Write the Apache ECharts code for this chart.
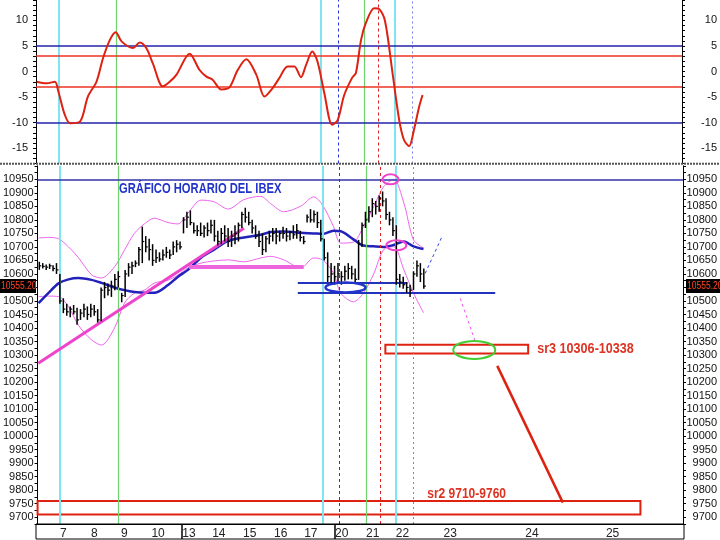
<!DOCTYPE html>
<html>
<head>
<meta charset="utf-8">
<script src="https://cdn.jsdelivr.net/npm/echarts@6/dist/echarts.min.js"></script>
<style>
html, body { margin: 0; padding: 0; background: #fff; }
#chart { width: 720px; height: 540px; }
</style>
</head>
<body>
<div id="chart"></div>
<script>
// hourly IBEX bars, one slot per trading hour (x = slot index)
var barHigh = [10645, 10640, 10635, 10638, 10632, 10640,
  10600, 10510, 10490, 10480, 10485, 10475, 10470, 10490, 10480,
  10490, 10485, 10470, 10550, 10570, 10565, 10575, 10600, 10610,
  10530, 10615, 10640, 10645, 10650, 10700, 10775, 10740, 10730,
  10710, 10690, 10680, 10690, 10700, 10690, 10720, 10725, 10720,
  10810, 10830, 10835, 10790, 10780, 10790, 10780, 10790, 10800,
  10800, 10760, 10770, 10780, 10770, 10760, 10780, 10790, 10830,
  10845, 10830, 10800, 10780, 10760, 10750, 10740, 10760, 10770,
  10770, 10760, 10775, 10770, 10760, 10780, 10785, 10760, 10740,
  10820, 10840, 10835, 10830, 10800, 10730, 10680, 10640, 10630,
  10640, 10610, 10630, 10640, 10630, 10620, 10726, 10790, 10830,
  10850, 10880, 10870, 10890, 10905, 10880, 10830, 10810, 10780,
  10600, 10590, 10570, 10560, 10610, 10650, 10640, 10620];
var barLow = [10615, 10620, 10615, 10618, 10610, 10600,
  10490, 10455, 10445, 10440, 10450, 10412, 10430, 10440, 10430,
  10440, 10445, 10420, 10425, 10510, 10520, 10515, 10540, 10550,
  10495, 10515, 10590, 10600, 10625, 10630, 10640, 10680, 10650,
  10630, 10640, 10645, 10650, 10660, 10655, 10670, 10680, 10690,
  10750, 10770, 10780, 10750, 10740, 10740, 10735, 10740, 10750,
  10720, 10705, 10710, 10720, 10700, 10700, 10710, 10720, 10770,
  10790, 10780, 10750, 10730, 10700, 10670, 10680, 10710, 10720,
  10710, 10720, 10730, 10720, 10725, 10730, 10730, 10720, 10710,
  10790, 10790, 10790, 10770, 10720, 10650, 10570, 10565, 10560,
  10570, 10560, 10575, 10580, 10580, 10565, 10578, 10700, 10770,
  10790, 10810, 10820, 10830, 10850, 10800, 10780, 10740, 10560,
  10550, 10545, 10530, 10515, 10540, 10590, 10570, 10545];
var barClose = [10630, 10628, 10625, 10630, 10620, 10615,
  10500, 10470, 10460, 10470, 10460, 10430, 10455, 10470, 10450,
  10470, 10460, 10430, 10540, 10550, 10540, 10555, 10580, 10590,
  10520, 10600, 10625, 10630, 10640, 10690, 10720, 10700, 10690,
  10650, 10660, 10655, 10670, 10680, 10670, 10700, 10710, 10700,
  10800, 10810, 10790, 10760, 10760, 10750, 10770, 10760, 10780,
  10740, 10720, 10750, 10740, 10720, 10740, 10750, 10780, 10820,
  10810, 10790, 10770, 10740, 10720, 10690, 10730, 10740, 10750,
  10740, 10750, 10750, 10740, 10755, 10745, 10760, 10735, 10720,
  10810, 10800, 10820, 10790, 10730, 10660, 10590, 10600, 10590,
  10600, 10590, 10610, 10620, 10600, 10580, 10710, 10780, 10800,
  10830, 10860, 10850, 10880, 10870, 10820, 10800, 10760, 10580,
  10570, 10560, 10550, 10540, 10600, 10630, 10600, 10555];
var lastPrice = 10555.20;

// moving average and bands, read at these slots
var bandSlot = [0.3, 3.2, 6.1, 9.0, 11.9, 15.7, 18.6, 22.4, 25.3, 28.2, 31.1, 34.0, 38.0, 40.9, 43.8, 47.6, 51.4, 55.5,
  60.1, 65.0, 67.9, 71.7, 76.7, 80.4, 83.0, 86.2, 88.3, 92.0, 94.9, 97.9, 100.8, 103.7, 106.7, 109.5, 112.4];
var maValue = [10492, 10530, 10565, 10580, 10585, 10578, 10567, 10550, 10540, 10533, 10530, 10530, 10559, 10590, 10615, 10660, 10690, 10722,
  10735, 10745, 10755, 10757, 10752, 10750, 10748, 10760, 10758, 10728, 10705, 10702, 10700, 10707, 10720, 10702, 10692];
var upperValue = [10733, 10735, 10730, 10700, 10660, 10597, 10585, 10626, 10688, 10750, 10785, 10806, 10790, 10785, 10825, 10873, 10867, 10840,
  10875, 10887, 10860, 10830, 10851, 10885, 10855, 10775, 10714, 10718, 10775, 10849, 10923, 10950, 10862, 10726, 10696];
var lowerValue = [10516, 10518, 10516, 10479, 10410, 10356, 10337, 10400, 10492, 10529, 10540, 10566, 10577, 10596, 10622, 10640, 10648, 10652,
  10645, 10659, 10665, 10652, 10622, 10659, 10652, 10603, 10529, 10497, 10529, 10600, 10690, 10701, 10615, 10529, 10457];

// oscillator (top panel)
var oscSlot = [0.2, 3.1, 5.5, 6.5, 8.4, 9.9, 12.8, 15.1, 17.6, 19.5, 21.5, 23.2, 24.9, 28.2, 30.2, 32.1, 34.0, 36.9, 38.9, 40.9,
  44.7, 47.6, 49.6, 51.4, 53.9, 56.3, 58.7, 61.2, 64.1, 66.5, 68.8, 70.8, 73.2, 75.2, 77.1, 78.6, 80.4, 81.9, 83.9, 86.2,
  87.8, 89.7, 92.1, 93.1, 94.6, 96.0, 98.4, 99.9, 101.6, 103.7, 105.7, 107.1, 108.6, 110.0, 111.5, 112.5];
var oscValue = [-2.0, -2.3, -2.0, -3.9, -8.5, -10.1, -9.8, -4.9, -2.0, 2.6, 6.2, 7.7, 5.9, 4.6, 5.7, 4.6, 1.6, -2.9, -2.0, -0.6,
  3.5, 0.3, -1.0, -1.6, -3.5, -3.1, 0.3, 2.4, -0.6, -4.9, -3.3, -1.3, 1.0, 1.0, -1.1, 1.3, 3.9, 2.0, -4.2, -10.4,
  -9.5, -4.6, -1.1, -0.3, 6.2, 9.5, 12.4, 12.2, 9.8, 0.0, -9.5, -13.4, -14.6, -11.4, -6.9, -4.6];
var oscBlueLevels = [5, -10];
var oscRedLevels = [3, -3];

// time axis
var dayLabel = ['7', '8', '9', '10', '13', '14', '15', '16', '17', '20', '21', '22', '23', '24', '25'];
var daySlot = [7.5, 16.5, 25.3, 35.1, 44.1, 52.8, 61.8, 70.8, 79.6, 88.6, 97.6, 106.3, 120.2, 144.0, 167.5];
var weekBreakSlot = [42.1, 86.5];
var cyanSlot = [6.5, 83.0, 104.4];
var greenSlot = [23.4, 95.6];
var blueDashSlot = [87.9];
var blueDotSlot = [109.5];
var redDashSlot = [99.7];

// drawn annotations, [slot, price]
var risingTrend = [[0.2, 10270], [60.1, 10769]];
var pinkSupport = [[44.1, 10625], [77.5, 10625]];
var blueUpper = [[75.8, 10568], [107.7, 10568]];
var blueLower = [[75.8, 10532], [133.3, 10532]];
var blueDashPath = [[112.9, 10602], [117.8, 10738]];
var pinkDashPath = [[123.1, 10510], [127.5, 10350]];
var redPointer = [[133.9, 10260], [153.0, 9754]];
var topResistance = 10950;
var sr3Zone = [101.3, 142.9, 10306, 10338];
var sr2Zone = [0, 175.6, 9710, 9760];
var blueOval = [89.7, 10550];
var topOval = [102.8, 10950];
var midOval = [104.5, 10706];
var greenOval = [127.2, 10319];

var FONT = '"Liberation Sans", Arial, sans-serif';
var X_MAX = 188;

function segment(pts, style) {
  return [{ coord: pts[0], lineStyle: style }, { coord: pts[1] }];
}
function vlines(slots, style) {
  return slots.map(function (s) { return { xAxis: s, lineStyle: style }; });
}
var cyanStyle = { color: '#7fe3f0', width: 2, type: 'solid' };
var greenStyle = { color: '#6fd26f', width: 1.2, type: 'solid' };
var blueDashStyle = { color: '#2436d8', width: 1, type: [3, 3] };
var blueDotStyle = { color: '#7282ee', width: 1, type: [2, 3] };
var redDashStyle = { color: '#e02020', width: 1, type: [3, 3] };
function allVlines() {
  return [].concat(vlines(cyanSlot, cyanStyle), vlines(greenSlot, greenStyle),
    vlines(blueDashSlot, blueDashStyle), vlines(blueDotSlot, blueDotStyle), vlines(redDashSlot, redDashStyle));
}

function yAxisBase(grid, pos, min, max, step, labelStep, margin) {
  return {
    type: 'value', gridIndex: grid, position: pos, min: min, max: max, interval: step,
    axisLine: { show: true, lineStyle: { color: '#000', width: 1 } },
    axisTick: { show: true, length: 3, lineStyle: { color: '#000' } },
    splitLine: { show: false },
    axisLabel: {
      fontFamily: FONT, fontSize: 11, color: '#111', margin: margin,
      align: 'right',
      formatter: function (v) {
        var r = Math.round(v);
        return (r % labelStep === 0 && r < max) ? String(r) : '';
      }
    }
  };
}

var option = {
  animation: false,
  backgroundColor: '#fff',
  grid: [
    { left: 36, right: 36, top: 0, height: 163.5 },
    { left: 36, right: 36, top: 165.8, height: 358.2 }
  ],
  xAxis: [
    { type: 'value', gridIndex: 0, min: 0, max: X_MAX, show: false },
    {
      type: 'value', gridIndex: 1, min: 0, max: X_MAX,
      axisLine: { show: true, lineStyle: { color: '#000', width: 1 } },
      axisTick: { show: true, customValues: weekBreakSlot, length: 15, lineStyle: { color: '#000', width: 1.5 } },
      splitLine: { show: false },
      axisLabel: {
        customValues: daySlot, margin: 4, fontFamily: FONT, fontSize: 12, color: '#222',
        formatter: function (v) {
          for (var i = 0; i < daySlot.length; i++) if (Math.abs(daySlot[i] - v) < 0.01) return dayLabel[i];
          return '';
        }
      }
    }
  ],
  yAxis: [
    yAxisBase(0, 'left', -18, 14, 1, 5, 8),
    yAxisBase(0, 'right', -18, 14, 1, 5, 35),
    yAxisBase(1, 'left', 9675, 11000, 25, 50, 4),
    yAxisBase(1, 'right', 9675, 11000, 25, 50, 34)
  ],
  series: [
    {
      name: 'osc', type: 'line', xAxisIndex: 0, yAxisIndex: 0,
      data: oscSlot.map(function (s, i) { return [s, oscValue[i]]; }),
      smooth: 0.3, symbol: 'none', lineStyle: { color: '#dd2211', width: 2 }, z: 5,
      markLine: {
        silent: true, symbol: 'none', label: { show: false },
        data: allVlines()
          .concat(oscBlueLevels.map(function (v) { return { yAxis: v, lineStyle: { color: '#2323a8', width: 1.5, type: 'solid' } }; }))
          .concat(oscRedLevels.map(function (v) { return { yAxis: v, lineStyle: { color: '#ee3322', width: 1.5, type: 'solid' } }; }))
      }
    },
    {
      name: 'upper', type: 'line', xAxisIndex: 1, yAxisIndex: 2,
      data: bandSlot.map(function (s, i) { return [s, upperValue[i]]; }),
      smooth: 0.3, symbol: 'none', lineStyle: { color: '#ee66ee', width: 1 }, z: 3
    },
    {
      name: 'lower', type: 'line', xAxisIndex: 1, yAxisIndex: 2,
      data: bandSlot.map(function (s, i) { return [s, lowerValue[i]]; }),
      smooth: 0.3, symbol: 'none', lineStyle: { color: '#ee66ee', width: 1 }, z: 3
    },
    {
      name: 'ma', type: 'line', xAxisIndex: 1, yAxisIndex: 2,
      data: bandSlot.map(function (s, i) { return [s, maValue[i]]; }),
      smooth: 0.3, symbol: 'none', lineStyle: { color: '#2222bb', width: 2.5 }, z: 4
    },
    {
      name: 'bars', type: 'custom', xAxisIndex: 1, yAxisIndex: 2, z: 6,
      data: barHigh.map(function (h, i) { return [i + 0.5, h, barLow[i], barClose[i]]; }),
      renderItem: function (params, api) {
        var x = api.value(0);
        var hi = api.coord([x, api.value(1)]);
        var lo = api.coord([x, api.value(2)]);
        var cl = api.coord([x, api.value(3)]);
        return {
          type: 'group', children: [
            { type: 'line', shape: { x1: hi[0], y1: hi[1], x2: lo[0], y2: lo[1] }, style: { stroke: '#000', lineWidth: 1.5 } },
            { type: 'line', shape: { x1: cl[0], y1: cl[1], x2: cl[0] + 2, y2: cl[1] }, style: { stroke: '#000', lineWidth: 1.2 } }
          ]
        };
      }
    },
    {
      name: 'notes', type: 'line', xAxisIndex: 1, yAxisIndex: 2, data: [], z: 4,
      markLine: {
        silent: true, symbol: 'none', label: { show: false },
        data: allVlines().concat([
          { yAxis: topResistance, lineStyle: { color: '#3333aa', width: 1.5, type: 'solid' } },
          segment(risingTrend, { color: '#ee44cc', width: 3, type: 'solid' }),
          segment(pinkSupport, { color: '#ee66dd', width: 4, type: 'solid' }),
          segment(blueUpper, { color: '#2233bb', width: 2, type: 'solid' }),
          segment(blueLower, { color: '#2233bb', width: 2, type: 'solid' }),
          segment(blueDashPath, { color: '#3344dd', width: 1, type: [3, 3] }),
          segment(pinkDashPath, { color: '#ee55ee', width: 1, type: [3, 3] }),
          segment(redPointer, { color: '#dd2211', width: 2.5, type: 'solid' })
        ])
      },
      markArea: {
        silent: true,
        itemStyle: { color: 'rgba(0,0,0,0)', borderColor: '#dd2211', borderWidth: 2 },
        label: { show: false },
        data: [
          [{ coord: [sr3Zone[0], sr3Zone[2]] }, { coord: [sr3Zone[1], sr3Zone[3]] }],
          [{ coord: [sr2Zone[0], sr2Zone[2]] }, { coord: [sr2Zone[1], sr2Zone[3]] }]
        ]
      }
    }
  ]
};

var chart = echarts.init(document.getElementById('chart'), null, { renderer: 'canvas' });
chart.setOption(option);

function px(pt) { return chart.convertToPixel({ xAxisIndex: 1, yAxisIndex: 2 }, pt); }
function oval(pt, rx, ry, color, w) {
  var c = px(pt);
  return { type: 'ellipse', shape: { cx: c[0], cy: c[1], rx: rx, ry: ry }, style: { fill: null, stroke: color, lineWidth: w }, z: 20 };
}
var priceY = px([0, lastPrice])[1];
var sr3Pos = px([sr3Zone[1], (sr3Zone[2] + sr3Zone[3]) / 2]);
var sr2Pos = px([113.5, sr2Zone[3]]);
var priceText = lastPrice.toFixed(2);

chart.setOption({
  graphic: [
    { type: 'line', shape: { x1: 0, y1: 163.8, x2: 720, y2: 163.8 }, style: { stroke: '#555', lineWidth: 2, lineDash: [2, 1] }, z: 30 },
    { type: 'rect', shape: { x: 36, y: 524, width: 648, height: 15 }, style: { fill: null, stroke: '#000', lineWidth: 1 }, z: 30 },
    { type: 'text', x: 119, y: 182, scaleX: 0.8, style: { text: 'GRÁFICO HORARIO DEL IBEX', font: 'bold 14px ' + FONT, fill: '#2233cc', textVerticalAlign: 'top' }, z: 30 },
    { type: 'text', x: sr3Pos[0] + 9, y: sr3Pos[1], scaleX: 0.84, style: { text: 'sr3 10306-10338', font: 'bold 15px ' + FONT, fill: '#dd3322', textVerticalAlign: 'middle' }, z: 30 },
    { type: 'text', x: sr2Pos[0], y: sr2Pos[1], scaleX: 0.8, style: { text: 'sr2 9710-9760', font: 'bold 15px ' + FONT, fill: '#dd3322', textVerticalAlign: 'bottom' }, z: 30 },
    oval(blueOval, 20, 5, '#2233cc', 2.5),
    oval(topOval, 8, 5, '#ee44cc', 2),
    oval(midOval, 10, 5, '#ee44cc', 2),
    oval(greenOval, 21, 9, '#44cc33', 2),
    { type: 'rect', shape: { x: 0, y: priceY - 7, width: 36, height: 14 }, style: { fill: '#000' }, z: 40 },
    { type: 'text', x: 1, y: priceY, scaleX: 0.85, style: { text: priceText, font: '10px ' + FONT, fill: '#ff4422', textVerticalAlign: 'middle' }, z: 41 },
    { type: 'rect', shape: { x: 686, y: priceY - 7, width: 34, height: 14 }, style: { fill: '#000' }, z: 40 },
    { type: 'text', x: 687, y: priceY, scaleX: 0.85, style: { text: priceText, font: '10px ' + FONT, fill: '#ff4422', textVerticalAlign: 'middle' }, z: 41 }
  ]
});
</script>
</body>
</html>
